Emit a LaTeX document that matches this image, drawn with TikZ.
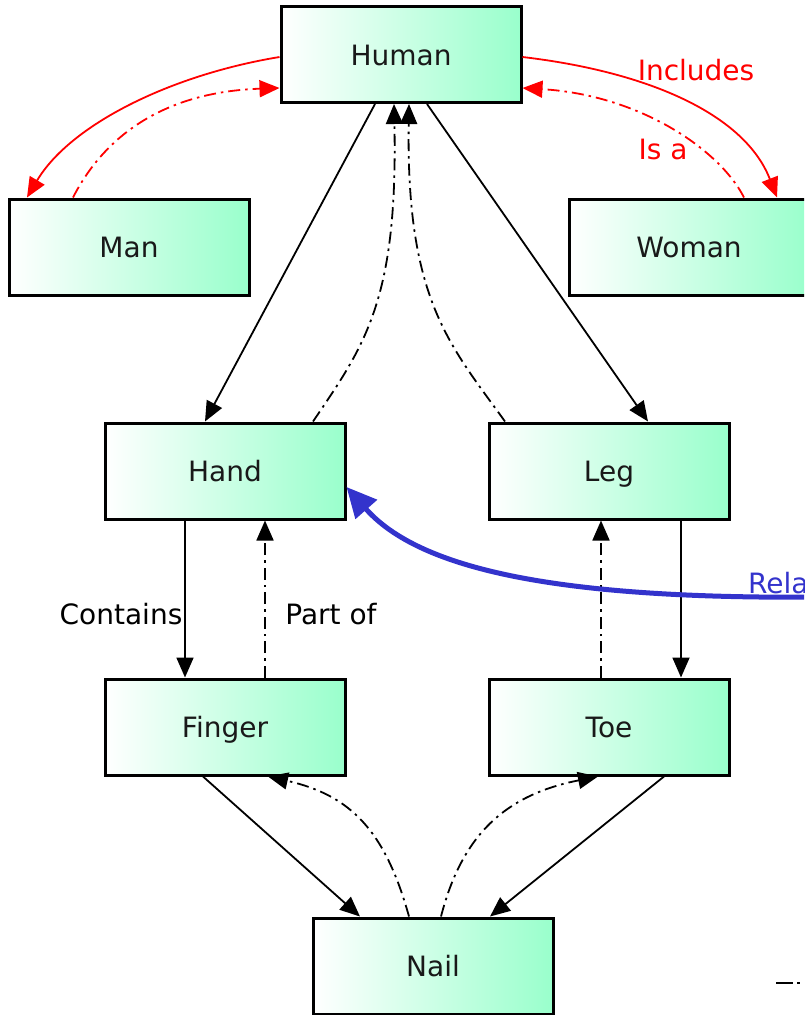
\documentclass[tikz,border=0pt]{standalone}
\usepackage{fontspec}
\setmainfont{DejaVu Sans}
\usetikzlibrary{arrows.meta}
\definecolor{mint}{RGB}{153,255,204}
\definecolor{relblue}{RGB}{51,51,204}
\definecolor{relred}{RGB}{255,0,0}
\begin{document}
\begin{tikzpicture}[x=1pt,y=-1pt,
  box/.style={draw=black, line width=3pt, left color=white, right color=mint,
    minimum width=240pt, minimum height=96pt, inner sep=0pt,
    text height=21pt, text depth=0pt, text=black!90,
    font=\fontsize{28}{33}\selectfont},
  lbl/.style={font=\fontsize{28}{33}\selectfont, inner sep=0pt, anchor=base},
  link/.style={line width=1.8pt, -{Triangle[length=20pt,width=17pt]}},
  dd/.style={dash pattern=on 12pt off 5pt on 2.5pt off 5pt},
  redlink/.style={link, draw=relred},
]
\useasboundingbox (0,0) rectangle (804,1015);
\clip (0,0) rectangle (804,1015);

% concept boxes
\node[box] (human)  at (401,54.5) {Human};
\node[box] (man)    at (129,247)  {Man};
\node[box] (woman)  at (689,247)  {Woman};
\node[box] (hand)   at (225,471)  {Hand};
\node[box] (leg)    at (609,471)  {Leg};
\node[box] (finger) at (225,727)  {Finger};
\node[box] (toe)    at (609,727)  {Toe};
\node[box] (nail)   at (433,966)  {Nail};

% edge labels
\node[lbl, text=relred] (inclbl) at (696,80)  {Includes};
\node[lbl, text=relred] (isalbl) at (663,159) {Is a};
\node[lbl] (contlbl) at (121,624) {Contains};
\node[lbl] (partlbl) at (331,624) {Part of};
\node[lbl, anchor=base west, text=relblue] (rellbl) at (748,593) {Rela};

% Human / Man / Woman (red)
\draw[redlink] ([yshift=-2.5pt]human.west) .. controls (170,75) and (70,125) .. ([xshift=-102pt]man.north);
\draw[redlink, dd] ([xshift=-56pt]man.north) .. controls (105,135) and (165,92) .. ([yshift=-33.5pt]human.west);
\draw[redlink] ([yshift=-2.5pt]human.east) .. controls (650,72) and (745,115) .. ([xshift=88pt]woman.north);
\draw[redlink, dd] ([xshift=55pt]woman.north) .. controls (720,150) and (640,95) .. ([yshift=-33.5pt]human.east);

% Human / Hand / Leg
\draw[link] ([xshift=-26pt]human.south) -- ([xshift=-20pt]hand.north);
\draw[link, dd] ([xshift=88pt]hand.north) .. controls (365,345) and (398,300) .. ([xshift=-7pt]human.south);
\draw[link, dd] ([xshift=-104pt]leg.north) .. controls (450,345) and (406,300) .. ([xshift=8pt]human.south);
\draw[link] ([xshift=26pt]human.south) -- ([xshift=39pt]leg.north);

% Hand / Finger, Leg / Toe
\draw[link] ([xshift=-40pt]hand.south) -- ([xshift=-40pt]finger.north);
\draw[link, dd] ([xshift=40pt]finger.north) -- ([xshift=40pt]hand.south);
\draw[link] ([xshift=72pt]leg.south) -- ([xshift=72pt]toe.north);
\draw[link, dd] ([xshift=-8pt]toe.north) -- ([xshift=-8pt]leg.south);

% Finger / Toe / Nail
\draw[link] ([xshift=-22pt]finger.south) -- ([xshift=-73pt]nail.north);
\draw[link, dd] ([xshift=-24pt]nail.north) .. controls (385,830) and (350,795) .. ([xshift=43pt]finger.south);
\draw[link, dd] ([xshift=8pt]nail.north) .. controls (462,835) and (505,795) .. ([xshift=-11pt]toe.south);
\draw[link] ([xshift=55pt]toe.south) -- ([xshift=57pt]nail.north);

% incoming relation (blue)
\coordinate (relstart) at (830,597);
\draw[line width=5pt, draw=relblue, -{Triangle[length=30pt,width=28pt]}]
  (relstart) .. controls (560,600) and (420,570) .. ([yshift=-16pt]hand.east);

% small mark in the corner
\coordinate (marka) at (776,983);
\coordinate (markb) at (804,983);
\draw[line width=2pt, dash pattern=on 17pt off 4pt on 3pt off 10pt] (marka) -- (markb);
\end{tikzpicture}
\end{document}
